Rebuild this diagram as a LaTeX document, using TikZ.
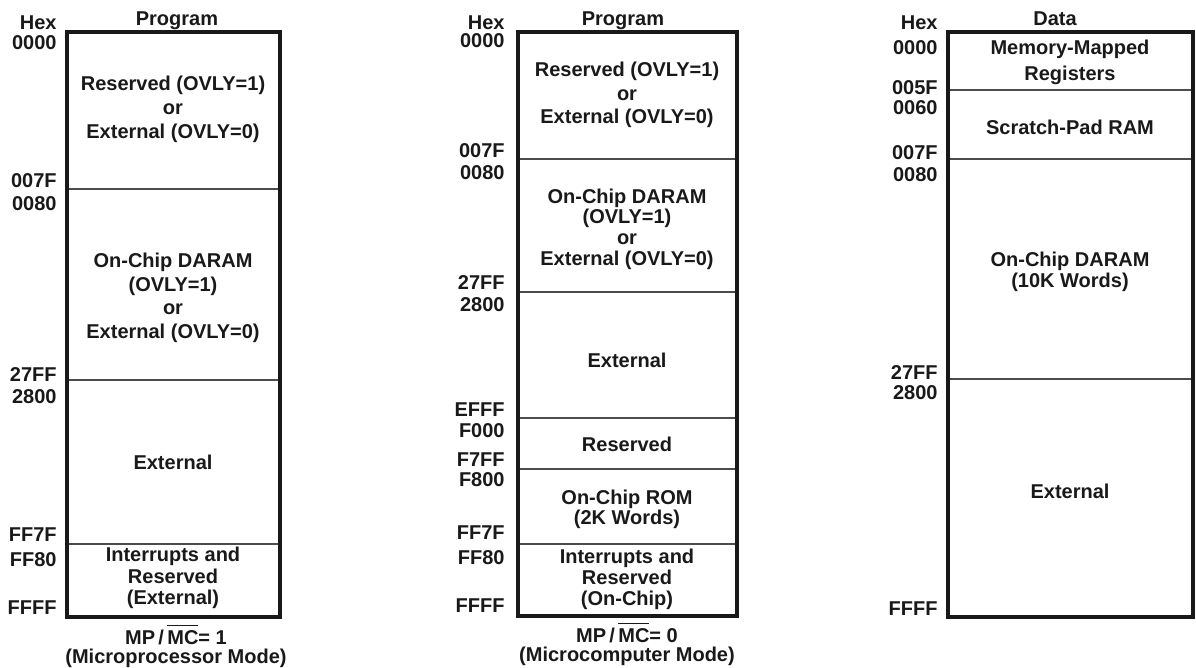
\documentclass[tikz,border=0pt]{standalone}
\usepackage{fontspec}
\setmainfont{Liberation Sans}
\newcommand{\ovbar}[1]{\vbox{\hrule height 0.7pt\kern 2.5pt\hbox{#1}}}
\tikzset{
    every node/.style={font=\bfseries\fontsize{10}{12}\selectfont, text=black!90},
    mapbox/.style={draw=black!90, line width=2pt},
    divider/.style={draw=black!70, line width=0.6pt},
    addr/.style={anchor=base east, inner sep=0pt},
    maptitle/.style={anchor=base, inner sep=0pt},
    region/.style={align=center, inner sep=0pt, font=\bfseries\fontsize{10}{#1}\selectfont},
    region/.default=12,
    mapnote/.style={align=center, inner sep=0pt, font=\bfseries\fontsize{10}{9.2}\selectfont},
}

\begin{document}
\begin{tikzpicture}[x=0.5pt, y=-0.5pt]
    \useasboundingbox (0,0) rectangle (1196,668);

    % program space, microprocessor mode
    \foreach \y in {189,380,544}
        \draw[divider] (67,\y) -- (280,\y);
    \draw[mapbox] (67,32) rectangle (280,617);
    \node[maptitle] (p1-title) at (177,26) {Program};
    \foreach \y/\t in {30/Hex,50/0000,188/007F,211/0080,382/27FF,404/2800,542/FF7F,567/FF80,615/FFFF}
        \node[addr] (p1-\t) at (57,\y) {\t};
    \node[region] (p1-ovly) at (173,109) {Reserved (OVLY=1)\\or\\External (OVLY=0)};
    \node[region=11.8] (p1-daram) at (173,298) {On-Chip DARAM\\(OVLY=1)\\or\\External (OVLY=0)};
    \node[region] (p1-ext) at (173,462) {External};
    \node[region=10.75] (p1-int) at (173,578) {Interrupts and\\Reserved\\(External)};
    \node[mapnote] (p1-mode) at (176,646) {MP\,/\,\ovbar{MC}= 1\\(Microprocessor Mode)};

    % program space, microcomputer mode
    \foreach \y in {159,292,418,469,544}
        \draw[divider] (518,\y) -- (737,\y);
    \draw[mapbox] (518,32) rectangle (737,616);
    \node[maptitle] (p2-title) at (623,26) {Program};
    \foreach \y/\t in {30/Hex,48/0000,158/007F,180/0080,290/27FF,312/2800,417/EFFF,438/F000,467/F7FF,487/F800,540/FF7F,565/FF80,613/FFFF}
        \node[addr] (p2-\t) at (505,\y) {\t};
    \node[region=11.75] (p2-ovly) at (627,95) {Reserved (OVLY=1)\\or\\External (OVLY=0)};
    \node[region=10.3] (p2-daram) at (627,229) {On-Chip DARAM\\(OVLY=1)\\or\\External (OVLY=0)};
    \node[region] (p2-ext) at (627,360) {External};
    \node[region] (p2-res) at (627,444) {Reserved};
    \node[region=10] (p2-rom) at (627,509) {On-Chip ROM\\(2K Words)};
    \node[region=10.5] (p2-int) at (627,579) {Interrupts and\\Reserved\\(On-Chip)};
    \node[mapnote] (p2-mode) at (627,644) {MP\,/\,\ovbar{MC}= 0\\(Microcomputer Mode)};

    % data space
    \foreach \y in {90,159,379}
        \draw[divider] (948,\y) -- (1193,\y);
    \draw[mapbox] (948,32) rectangle (1193,617);
    \node[maptitle] (d-title) at (1055,26) {Data};
    \foreach \y/\t in {30/Hex,55/0000,95/005F,115/0060,160/007F,182/0080,380/27FF,400/2800,616/FFFF}
        \node[addr] (d-\t) at (938,\y) {\t};
    \node[region=13] (d-mmr) at (1070,62) {Memory-Mapped\\Registers};
    \node[region] (d-pad) at (1070,127) {Scratch-Pad RAM};
    \node[region=9] (d-daram) at (1070,272) {On-Chip DARAM\\(10K Words)};
    \node[region] (d-ext) at (1070,491) {External};
\end{tikzpicture}
\end{document}
